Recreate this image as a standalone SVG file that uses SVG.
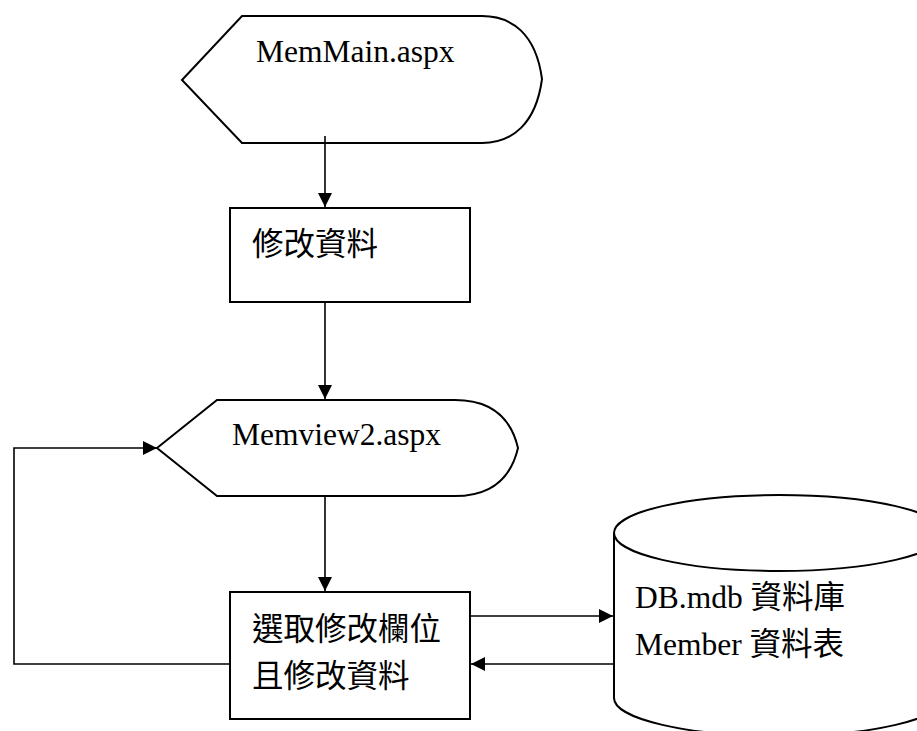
<svg xmlns="http://www.w3.org/2000/svg" width="917" height="731" viewBox="0 0 917 731">
  <style>
    .shape { fill: #ffffff; stroke: #000000; stroke-width: 2; }
    .conn { fill: none; stroke: #000000; stroke-width: 1.6; }
    .lbl { font-family: "Liberation Serif", "Noto Sans CJK TC", serif; font-size: 31.5px; fill: #000000; }
  </style>
  <defs>
    <marker id="arrow" markerUnits="userSpaceOnUse" markerWidth="15" markerHeight="15" refX="14" refY="7" orient="auto">
      <path d="M0,0 L14,7 L0,14 z" fill="#000000"/>
    </marker>
  </defs>
  <rect width="917" height="731" fill="#ffffff"/>

  <g id="memmain">
    <path class="shape" d="M182,80 L242,16 L482,16 C512,16 536,34 542,79 C536,124 512,143 482,143 L242,143 Z"/>
    <text class="lbl" x="256" y="62">MemMain.aspx</text>
  </g>

  <g id="edit">
    <rect class="shape" x="230" y="208" width="240" height="94"/>
    <text class="lbl" x="252" y="255">修改資料</text>
  </g>

  <g id="memview2">
    <path class="shape" d="M157,448 L217,400 L455,400 C488,400 510,414 518,448 C510,482 488,496 455,496 L217,496 Z"/>
    <text class="lbl" x="232" y="445">Memview2.aspx</text>
  </g>

  <g id="select">
    <rect class="shape" x="230" y="592" width="240" height="127"/>
    <text class="lbl" x="252" y="640">選取修改欄位</text>
    <text class="lbl" x="252" y="687">且修改資料</text>
  </g>

  <g id="database">
    <path class="shape" d="M614,533 L614,698 A165,38 0 0 0 944,698 L944,533"/>
    <ellipse class="shape" cx="779" cy="533" rx="165" ry="38"/>
    <text class="lbl" x="635" y="608">DB.mdb 資料庫</text>
    <text class="lbl" x="635" y="655">Member 資料表</text>
  </g>

  <g id="connectors">
    <line class="conn" x1="325" y1="136" x2="325" y2="207" marker-end="url(#arrow)"/>
    <line class="conn" x1="325" y1="302" x2="325" y2="399" marker-end="url(#arrow)"/>
    <line class="conn" x1="325" y1="497" x2="325" y2="591" marker-end="url(#arrow)"/>
    <line class="conn" x1="471" y1="616" x2="613" y2="616" marker-end="url(#arrow)"/>
    <line class="conn" x1="613" y1="664" x2="471" y2="664" marker-end="url(#arrow)"/>
    <polyline class="conn" points="230,664 14,664 14,448 157,448" marker-end="url(#arrow)"/>
  </g>
</svg>
